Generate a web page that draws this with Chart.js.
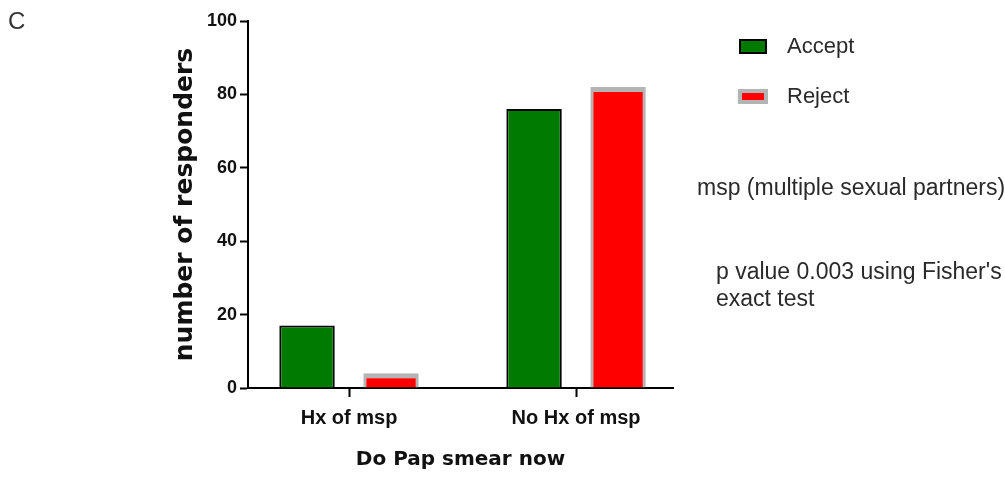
<!DOCTYPE html>
<html>
<head>
<meta charset="utf-8">
<script src="https://cdn.jsdelivr.net/npm/chart.js@4.4.1/dist/chart.umd.min.js"></script>
<style>
  html, body { margin: 0; padding: 0; background: #ffffff; }
  #wrap { width: 1005px; height: 479px; }
</style>
</head>
<body>
<div id="wrap"><canvas id="c" width="1005" height="479"></canvas></div>
<script>
// ---- data ----
const categories = ['Hx of msp', 'No Hx of msp'];
const seriesNames = ['Accept', 'Reject'];
const acceptValues = [17, 76];
const rejectValues = [4, 82];
const yMin = 0, yMax = 100, yStep = 20;
const panelLetter = 'C';
const noteLines = ['msp (multiple sexual partners)'];
const pLines = ["p value 0.003 using Fisher's", 'exact test'];
const xTitle = 'Do Pap smear now';
const yTitle = 'number of responders';

// ---- annotation / legend plugin ----
const annotate = {
  id: 'annotate',
  afterDraw(chart) {
    const ctx = chart.ctx;
    ctx.save();
    // panel letter
    ctx.fillStyle = '#333';
    ctx.font = '24px "Liberation Sans", Arial, sans-serif';
    ctx.textBaseline = 'middle';
    ctx.textAlign = 'left';
    ctx.fillText(panelLetter, 8, 22);

    // legend
    const ds = chart.data.datasets;
    const boxes = [
      { x: 739, y: 39, w: 28, h: 15 },
      { x: 738, y: 89, w: 30, h: 15 }
    ];
    ds.forEach((d, i) => {
      const b = boxes[i];
      const bw = i === 0 ? 2 : 4;
      ctx.fillStyle = d.borderColor;
      ctx.fillRect(b.x, b.y, b.w, b.h);
      ctx.fillStyle = d.backgroundColor;
      ctx.fillRect(b.x + bw, b.y + bw, b.w - 2 * bw, b.h - 2 * bw);
      ctx.fillStyle = '#2a2a2a';
      ctx.font = '22px "Liberation Sans", Arial, sans-serif';
      ctx.textBaseline = 'middle';
      ctx.fillText(d.label, 787, b.y + b.h / 2);
    });

    // notes
    ctx.font = '23px "Liberation Sans", Arial, sans-serif';
    ctx.fillStyle = '#2a2a2a';
    ctx.fillText(noteLines[0], 697, 189);
    ctx.fillText(pLines[0], 716, 273);
    ctx.fillText(pLines[1], 716, 300);
    ctx.restore();
  }
};

new Chart(document.getElementById('c'), {
  type: 'bar',
  data: {
    labels: categories,
    datasets: [
      {
        label: seriesNames[0],
        data: acceptValues,
        backgroundColor: '#007a00',
        borderColor: '#000000',
        borderWidth: 2,
        borderSkipped: 'start'
      },
      {
        label: seriesNames[1],
        data: rejectValues,
        backgroundColor: '#ff0000',
        borderColor: '#b4b4b4',
        borderWidth: { top: 5, left: 3, right: 3, bottom: 0 },
        borderSkipped: 'start'
      }
    ]
  },
  options: {
    responsive: false,
    animation: false,
    devicePixelRatio: 1,
    categoryPercentage: 0.74,
    barPercentage: 0.66,
    layout: { padding: { left: 0, top: 21, right: 332, bottom: 0 } },
    plugins: {
      legend: { display: false },
      tooltip: { enabled: false },
      title: { display: false }
    },
    scales: {
      x: {
        type: 'category',
        offset: false,
        grid: {
          offset: false,
          display: true,
          drawOnChartArea: false,
          drawTicks: true,
          tickLength: 9,
          tickColor: '#000',
          tickWidth: 2
        },
        border: { display: true, color: '#000', width: 2 },
        ticks: {
          color: '#111',
          font: { family: '"Liberation Sans", Arial, sans-serif', size: 20, weight: 'bold' },
          padding: 9,
          maxRotation: 0,
          autoSkip: false
        },
        title: {
          display: true,
          text: xTitle,
          color: '#111',
          font: { family: '"DejaVu Sans", sans-serif', size: 20, weight: 'bold' },
          padding: { top: 0, bottom: 7 }
        },
        afterBuildTicks(s) {
          // category centres sit 0.445 / 0.427 of a category from the axis ends
          s._startValue = -0.445;
          s._valueRange = 1.872;
        },
        afterFit(s) { s.height = 91; }
      },
      y: {
        min: yMin,
        max: yMax,
        grid: {
          display: true,
          drawOnChartArea: false,
          drawTicks: true,
          tickLength: 8,
          tickColor: '#000',
          tickWidth: 2
        },
        border: { display: true, color: '#000', width: 2 },
        ticks: {
          stepSize: yStep,
          color: '#111',
          font: { family: '"Liberation Sans", Arial, sans-serif', size: 18, weight: 'bold' },
          padding: 3
        },
        title: {
          display: true,
          text: yTitle,
          color: '#111',
          font: { family: '"DejaVu Sans", sans-serif', size: 25, weight: 'bold' },
          padding: { top: 170, bottom: 0 }
        },
        afterFit(s) { s.width = 248; }
      }
    }
  },
  plugins: [annotate]
});
</script>
</body>
</html>
